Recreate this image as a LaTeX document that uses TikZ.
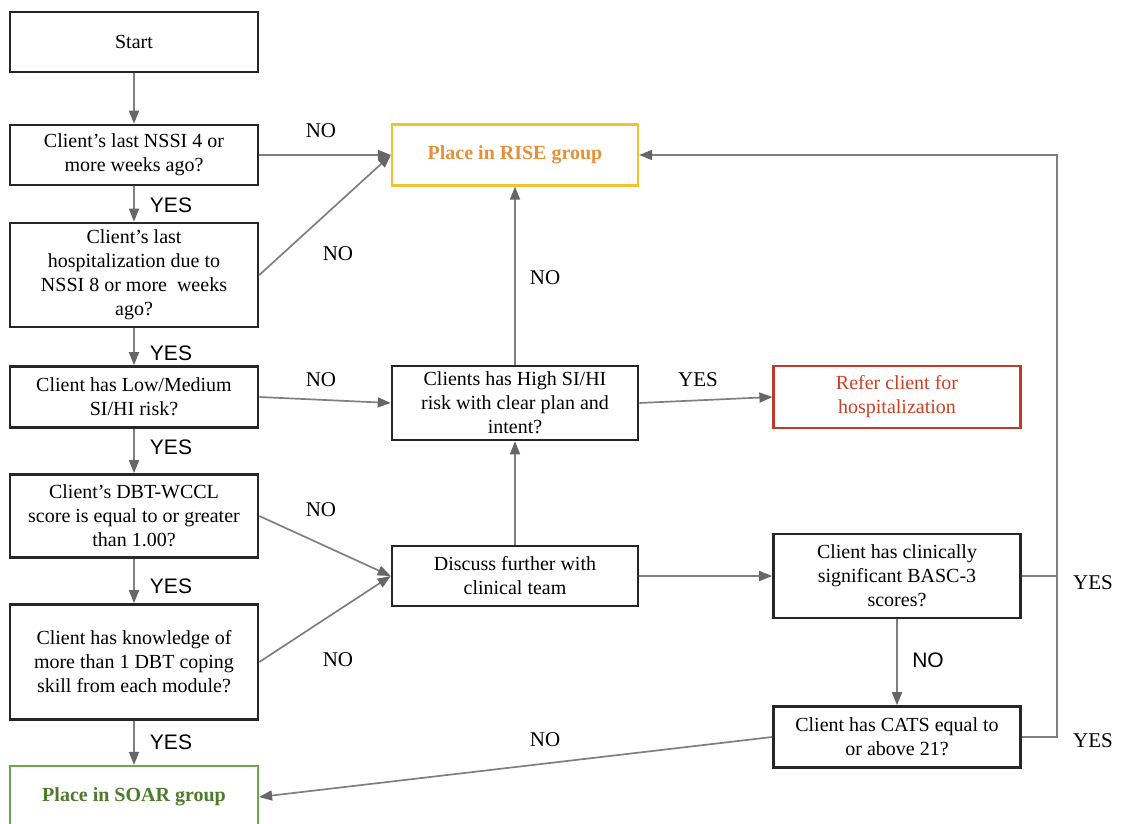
\documentclass[tikz,border=0pt]{standalone}
\usepackage{fontspec}
\setmainfont{Liberation Serif}
\newfontfamily\yesfont{Liberation Sans}
\usepackage{tikz}
\usetikzlibrary{arrows.meta,positioning,calc}
\usepackage{xcolor}
\definecolor{fcLine}{HTML}{7F7F7F}
\definecolor{fcTip}{HTML}{666666}
\definecolor{fcRiseBd}{HTML}{F1C232}
\definecolor{fcRiseTx}{HTML}{E69138}
\definecolor{fcReferBd}{HTML}{C0392B}
\definecolor{fcReferTx}{HTML}{CC4125}
\definecolor{fcSoarBd}{HTML}{6AA84F}
\definecolor{fcSoarTx}{HTML}{4E7A2A}
\tikzset{
    % boxes
    qbox/.style={rectangle,draw=black!85,line width=2.6pt,fill=white,minimum width=248pt,align=center,inner sep=1pt,font=\fontsize{20}{24}\selectfont},
    risebox/.style={qbox,draw=fcRiseBd,text=fcRiseTx,line width=2.2pt},
    referbox/.style={qbox,draw=fcReferBd,text=fcReferTx,line width=2.2pt},
    soarbox/.style={qbox,draw=fcSoarBd,text=fcSoarTx,line width=2.2pt},
    % connectors
    flow/.style={draw=fcLine,line width=1.7pt,-{Triangle[length=13pt,width=10pt,fcTip]}},
    plain/.style={draw=fcLine,line width=1.7pt},
    lbl/.style={font=\fontsize{21}{24}\selectfont},
    slbl/.style={font=\yesfont\fontsize{21}{24}\selectfont}
}

\begin{document}
\begin{tikzpicture}[x=1pt,y=-1pt]
\useasboundingbox (0,0) rectangle (1125,824);

% left column
\node[qbox,minimum height=60pt] at (134,42) (start) {Start};
\node[qbox,minimum height=60pt] at (134,155) (nssi) {Client’s last NSSI 4 or\\more weeks ago?};
\node[qbox,minimum height=104pt] at (134,275) (hosp) {Client’s last\\hospitalization due to\\NSSI 8 or more~ weeks\\ago?};
\node[qbox,minimum height=61pt] at (134,397) (risk) {Client has Low/Medium\\SI/HI risk?};
\node[qbox,minimum height=83pt] at (134,516) (wccl) {Client’s DBT-WCCL\\score is equal to or greater\\than 1.00?};
\node[qbox,minimum height=115pt] at (134,662) (skill) {Client has knowledge of\\more than 1 DBT coping\\skill from each module?};
\node[soarbox,minimum height=62pt] at (134,797) (soar) {\textbf{Place in SOAR group}};

% middle column
\node[risebox,minimum width=246pt,minimum height=61pt] at (515,155) (rise) {\textbf{Place in RISE group}};
\node[qbox,minimum width=246pt,minimum height=74pt] at (515,403) (high) {Clients has High SI/HI\\risk with clear plan and\\intent?};
\node[qbox,minimum width=246pt,minimum height=60pt] at (515,576) (team) {Discuss further with\\clinical team};

% right column
\node[referbox,minimum width=247pt,minimum height=62pt] at (897,397) (refer) {Refer client for\\hospitalization};
\node[qbox,minimum width=247pt,minimum height=84pt] at (897,576) (basc) {Client has clinically\\significant BASC-3\\scores?};
\node[qbox,minimum width=247pt,minimum height=61pt] at (897,737) (cats) {Client has CATS equal to\\or above 21?};

% turning points on the far right
\coordinate (rtop) at (1057,155);
\coordinate (rmid) at (1057,576);

% yes chain
\draw[flow] (start) -- (nssi);
\draw[flow] (nssi) -- (hosp);
\draw[flow] (hosp) -- (risk);
\draw[flow] (risk) -- (wccl);
\draw[flow] (wccl) -- (skill);
\draw[flow] (skill) -- (soar);

% no branches
\draw[flow] (nssi.east) -- (rise.west);
\draw[flow] (hosp.east) -- (rise.west);
\draw[flow] (risk.east) -- (high.west);
\draw[flow] (wccl.east) -- (team.west);
\draw[flow] (skill.east) -- (team.west);
\draw[flow] (team) -- (high);
\draw[flow] (high) -- (rise);
\draw[flow] (high.east) -- (refer.west);
\draw[flow] (team.east) -- (basc.west);
\draw[flow] (basc) -- (cats);
\draw[flow] (basc.east) -| (rtop) -- (rise.east);
\draw[plain] (cats.east) -| (rmid);
\draw[flow] (cats.west) -- (soar.east);

% labels
\node[slbl] at (171,205) (y1) {YES};
\node[slbl] at (171,353) (y2) {YES};
\node[slbl] at (171,447) (y3) {YES};
\node[slbl] at (171,586) (y4) {YES};
\node[slbl] at (171,742) (y5) {YES};
\node[lbl] at (321,131) (n1) {NO};
\node[lbl] at (338,254) (n2) {NO};
\node[lbl] at (321,380) (n3) {NO};
\node[lbl] at (321,510) (n4) {NO};
\node[lbl] at (338,660) (n5) {NO};
\node[lbl] at (545,278) (n6) {NO};
\node[lbl] at (698,380) (y6) {YES};
\node[slbl] at (928,660) (n7) {NO};
\node[lbl] at (545,740) (n8) {NO};
\node[lbl] at (1093,583) (y7) {YES};
\node[lbl] at (1093,741) (y8) {YES};

\end{tikzpicture}
\end{document}
